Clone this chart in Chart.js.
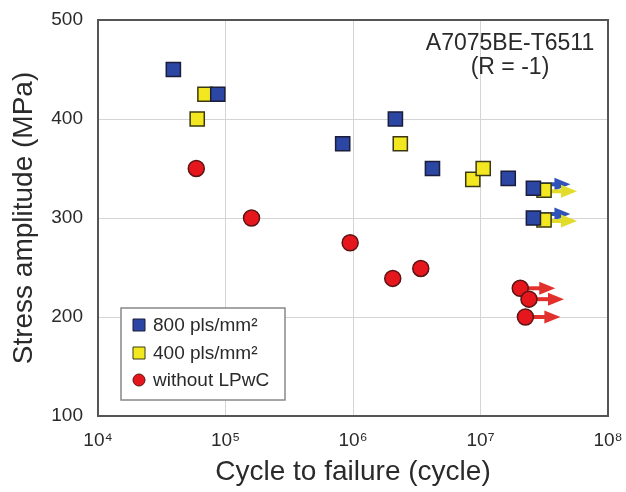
<!DOCTYPE html>
<html>
<head>
<meta charset="utf-8">
<script src="https://cdn.jsdelivr.net/npm/chart.js@4.4.0/dist/chart.umd.min.js"></script>
<style>
  html, body { margin: 0; padding: 0; background: #fff; }
  #wrap { width: 626px; height: 492px; }
</style>
</head>
<body>
<div id="wrap"><canvas id="snChart" width="626" height="492"></canvas></div>
<script>
// Data (cycles to failure, stress amplitude in MPa)
const cycles800 = [3.9e4, 8.7e4, 8.3e5, 2.15e6, 4.2e6, 1.65e7, 2.6e7, 2.6e7];
const stress800 = [450, 425, 375, 400, 350, 340, 330, 300];
const runout800 = [false, false, false, false, false, false, true, true];

const cycles400 = [6.9e4, 6.0e4, 2.35e6, 8.7e6, 1.05e7, 3.15e7, 3.15e7];
const stress400 = [425, 400, 375, 339, 350, 328, 298];
const runout400 = [false, false, false, false, false, true, true];

const cyclesBase = [5.9e4, 1.6e5, 9.5e5, 2.05e6, 3.4e6, 2.05e7, 2.4e7, 2.25e7];
const stressBase = [350, 300, 275, 239, 249, 229, 218, 200];
const runoutBase = [false, false, false, false, false, true, true, true];

const xTicks = [1e4, 1e5, 1e6, 1e7, 1e8];
const xTickLabels = ['10\u2074', '10\u2075', '10\u2076', '10\u2077', '10\u2078'];
const yTicks = [100, 200, 300, 400, 500];

const seriesNames = ['800 pls/mm\u00B2', '400 pls/mm\u00B2', 'without LPwC'];

function toPoints(xs, ys) {
  return xs.map(function (x, i) { return { x: x, y: ys[i] }; });
}

const FONT = "'Liberation Sans', Arial, sans-serif";

// arrow look for each dataset (run-out specimens)
const arrowStyles = [
  { color: '#2f53b8', dy: -4, length: 37 },
  { color: '#e4dc2a', dy: 1, length: 33 },
  { color: '#e2312c', dy: 0, length: 35 }
];

const runoutArrows = {
  id: 'runoutArrows',
  beforeDatasetsDraw: function (chart) {
    var ctx = chart.ctx;
    chart.data.datasets.forEach(function (ds, i) {
      var meta = chart.getDatasetMeta(i);
      var style = arrowStyles[i];
      ds.runout.forEach(function (flag, j) {
        if (!flag) return;
        var pt = meta.data[j];
        var x0 = pt.x;
        var y0 = pt.y + style.dy;
        var x1 = x0 + style.length;
        ctx.save();
        ctx.strokeStyle = style.color;
        ctx.fillStyle = style.color;
        ctx.lineWidth = 4;
        ctx.beginPath();
        ctx.moveTo(x0, y0);
        ctx.lineTo(x1 - 12, y0);
        ctx.stroke();
        ctx.beginPath();
        ctx.moveTo(x1, y0);
        ctx.lineTo(x1 - 16, y0 - 6.5);
        ctx.lineTo(x1 - 16, y0 + 6.5);
        ctx.closePath();
        ctx.fill();
        ctx.restore();
      });
    });
  }
};

// frame around the plot area, legend box and the material label
const decorations = {
  id: 'decorations',
  beforeDatasetsDraw: function (chart) {
    var ctx = chart.ctx;
    var a = chart.chartArea;
    ctx.save();
    ctx.strokeStyle = '#555';
    ctx.lineWidth = 2;
    ctx.strokeRect(a.left, a.top, a.right - a.left, a.bottom - a.top);
    ctx.restore();
  },
  afterDraw: function (chart) {
    var ctx = chart.ctx;
    ctx.save();

    // material label
    ctx.fillStyle = '#2a2a2a';
    ctx.font = '23px ' + FONT;
    ctx.textAlign = 'center';
    ctx.textBaseline = 'middle';
    ctx.fillText('A7075BE-T6511', 510, 44);
    ctx.fillText('(R = -1)', 510, 68);

    // legend
    var bx = 121, by = 308, bw = 164, bh = 92;
    ctx.fillStyle = '#fff';
    ctx.fillRect(bx, by, bw, bh);
    ctx.strokeStyle = '#888';
    ctx.lineWidth = 1.5;
    ctx.strokeRect(bx, by, bw, bh);

    var rows = [325, 353, 380];
    chart.data.datasets.forEach(function (ds, i) {
      var cy = rows[i];
      ctx.fillStyle = ds.backgroundColor;
      ctx.strokeStyle = ds.borderColor;
      ctx.lineWidth = 1;
      ctx.beginPath();
      if (ds.pointStyle === 'circle') {
        ctx.arc(139, cy, 6, 0, Math.PI * 2);
      } else {
        ctx.rect(133, cy - 6, 12, 12);
      }
      ctx.fill();
      ctx.stroke();
      ctx.fillStyle = '#2a2a2a';
      ctx.font = '19px ' + FONT;
      ctx.textAlign = 'left';
      ctx.fillText(ds.label, 153, cy + 1);
    });
    ctx.restore();
  }
};

// Creating the S-N chart
const snChart = new Chart(document.getElementById('snChart'), {
  type: 'scatter',
  data: {
    datasets: [
      {
        label: seriesNames[0],
        data: toPoints(cycles800, stress800),
        runout: runout800,
        pointStyle: 'rect',
        pointRadius: 10,
        backgroundColor: '#2b47a3',
        borderColor: '#1b1d3a',
        borderWidth: 1.5,
        order: 1
      },
      {
        label: seriesNames[1],
        data: toPoints(cycles400, stress400),
        runout: runout400,
        pointStyle: 'rect',
        pointRadius: 10,
        backgroundColor: '#f3e820',
        borderColor: '#3a3812',
        borderWidth: 1.5,
        order: 2
      },
      {
        label: seriesNames[2],
        data: toPoints(cyclesBase, stressBase),
        runout: runoutBase,
        pointStyle: 'circle',
        pointRadius: 8,
        backgroundColor: '#e6161d',
        borderColor: '#5a1414',
        borderWidth: 1.5,
        order: 3
      }
    ]
  },
  options: {
    responsive: false,
    animation: false,
    layout: {
      padding: { top: 20, right: 18, left: 0, bottom: 0 }
    },
    scales: {
      x: {
        type: 'logarithmic',
        min: 1e4,
        max: 1e8,
        afterBuildTicks: function (scale) {
          scale.ticks = xTicks.map(function (v) { return { value: v }; });
        },
        afterFit: function (scale) {
          scale.height = 76;
          scale.paddingLeft = 0;
          scale.paddingRight = 0;
        },
        grid: { color: '#d4d4d4', lineWidth: 1, drawTicks: false },
        border: { display: false },
        ticks: {
          color: '#2a2a2a',
          font: { family: FONT, size: 19 },
          padding: 13,
          maxRotation: 0,
          autoSkip: false,
          callback: function (value) {
            var k = xTicks.indexOf(value);
            return k >= 0 ? xTickLabels[k] : '';
          }
        },
        title: {
          display: true,
          text: 'Cycle to failure (cycle)',
          color: '#2a2a2a',
          font: { family: FONT, size: 28 },
          padding: { top: 0, bottom: 3 }
        }
      },
      y: {
        min: 100,
        max: 500,
        afterBuildTicks: function (scale) {
          scale.ticks = yTicks.map(function (v) { return { value: v }; });
        },
        afterFit: function (scale) {
          scale.width = 98;
          scale.paddingTop = 0;
          scale.paddingBottom = 0;
        },
        grid: { color: '#d4d4d4', lineWidth: 1, drawTicks: false },
        border: { display: false },
        ticks: {
          color: '#2a2a2a',
          font: { family: FONT, size: 19 },
          padding: 15
        },
        title: {
          display: true,
          text: 'Stress amplitude (MPa)',
          color: '#2a2a2a',
          font: { family: FONT, size: 28 },
          padding: { top: 7, bottom: 0 }
        }
      }
    },
    plugins: {
      legend: { display: false },
      tooltip: { enabled: false }
    }
  },
  plugins: [runoutArrows, decorations]
});
</script>
</body>
</html>
